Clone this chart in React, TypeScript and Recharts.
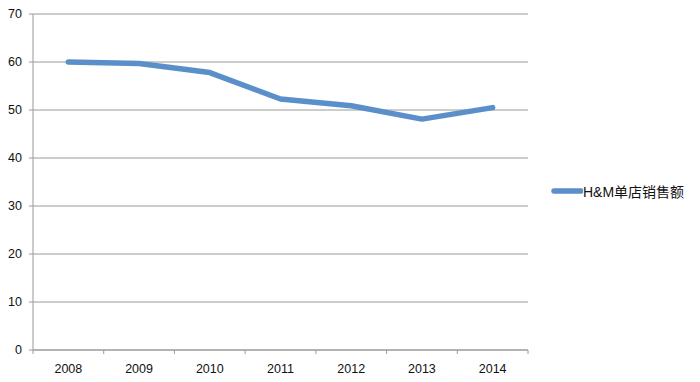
import React from 'react';
import { LineChart, Line, XAxis, YAxis, CartesianGrid } from 'recharts';

const years = ['2008', '2009', '2010', '2011', '2012', '2013', '2014'];
const sales = [60, 59.7, 57.8, 52.3, 50.9, 48.1, 50.5];
const yTicks = [0, 10, 20, 30, 40, 50, 60, 70];
const seriesName = 'H&M单店销售额';

const data = years.map((y, i) => ({ year: y, x: i + 0.5, v: sales[i] }));
const xTicks: number[] = [];
for (let i = 0; i <= years.length * 2; i++) xTicks.push(i / 2);

const AXIS = '#9a9a9a';
const LINE = '#5b8fc9';
const FONT = '"Liberation Sans", Arial, sans-serif';

const XTick = (props: any) => {
  const { x, y, payload } = props;
  const v = payload.value as number;
  if (Number.isInteger(v)) {
    return <line x1={x} x2={x} y1={y} y2={y + 4} stroke={AXIS} strokeWidth={1} />;
  }
  return (
    <text x={x} y={y + 23} textAnchor="middle" fontSize={12.5} fill="#111" fontFamily={FONT}>
      {years[Math.floor(v)]}
    </text>
  );
};

export default function App() {
  return (
    <div style={{ position: 'absolute', left: 0, top: 0, width: 700, height: 382, background: '#fff' }}>
      <LineChart
        width={700}
        height={382}
        data={data}
        margin={{ top: 14, right: 172, bottom: 0, left: 0 }}
        style={{ fontFamily: FONT }}
      >
        <CartesianGrid vertical={false} stroke={AXIS} strokeWidth={1} />
        <XAxis
          dataKey="x"
          type="number"
          domain={[0, 7]}
          ticks={xTicks}
          interval={0}
          tickSize={0}
          tickMargin={0}
          tickLine={false}
          axisLine={{ stroke: AXIS, strokeWidth: 1 }}
          tick={<XTick />}
          height={32}
        />
        <YAxis
          width={33}
          domain={[0, 70]}
          ticks={yTicks}
          interval={0}
          tickSize={4}
          tickMargin={7}
          axisLine={{ stroke: AXIS, strokeWidth: 1 }}
          tickLine={{ stroke: AXIS, strokeWidth: 1 }}
          tick={{ fontSize: 12.5, fill: '#111', fontFamily: FONT }}
        />
        <Line
          dataKey="v"
          stroke={LINE}
          strokeWidth={5.5}
          strokeLinecap="round"
          strokeLinejoin="round"
          dot={false}
          activeDot={false}
          isAnimationActive={false}
        />
      </LineChart>
      <div
        style={{
          position: 'absolute',
          left: 551,
          top: 181,
          display: 'flex',
          alignItems: 'center',
          fontFamily: '"Liberation Sans", "Noto Sans CJK SC", sans-serif',
          fontSize: 14,
          color: '#111',
          whiteSpace: 'nowrap',
        }}
      >
        <svg width={32} height={20}>
          <line x1={3} x2={30} y1={10} y2={10} stroke={LINE} strokeWidth={5.5} strokeLinecap="round" />
        </svg>
        <span>{seriesName}</span>
      </div>
    </div>
  );
}
